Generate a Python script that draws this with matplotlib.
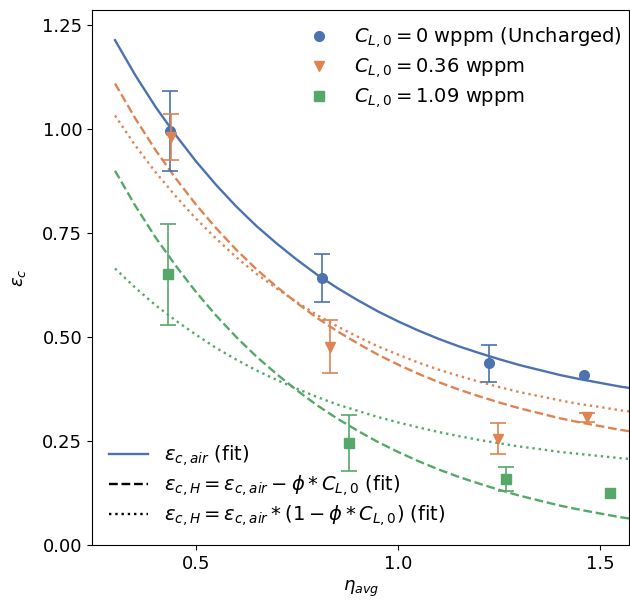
import numpy as np
import matplotlib
matplotlib.use("Agg")
import matplotlib.pyplot as plt
from matplotlib.lines import Line2D

# measured points (0 = no error bar drawn)
eta_0 = [0.436, 0.811, 1.224, 1.459]
eps_0 = [0.996, 0.642, 0.437, 0.409]
err_0 = [0.097, 0.058, 0.044, 0.0]

eta_036 = [0.438, 0.831, 1.247, 1.466]
eps_036 = [0.981, 0.477, 0.256, 0.307]
err_036 = [0.056, 0.064, 0.038, 0.011]

eta_109 = [0.430, 0.878, 1.268, 1.523]
eps_109 = [0.651, 0.245, 0.159, 0.126]
err_109 = [0.121, 0.067, 0.030, 0.0]

# fitted curves
eta_fit = [0.30, 0.35, 0.40, 0.45, 0.50, 0.55, 0.60, 0.65, 0.70, 0.75,
           0.80, 0.85, 0.90, 0.95, 1.00, 1.05, 1.10, 1.15, 1.20, 1.25,
           1.30, 1.35, 1.40, 1.45, 1.50, 1.55, 1.60]
fit_air = [1.214, 1.130, 1.054, 0.986, 0.923, 0.866, 0.814, 0.767, 0.725, 0.686,
           0.650, 0.618, 0.589, 0.562, 0.538, 0.516, 0.496, 0.478, 0.462, 0.447,
           0.433, 0.421, 0.409, 0.399, 0.390, 0.381, 0.374]
fit_sub_036 = [1.110, 1.026, 0.950, 0.882, 0.819, 0.762, 0.710, 0.663, 0.621, 0.582,
               0.546, 0.514, 0.485, 0.458, 0.434, 0.412, 0.392, 0.374, 0.358, 0.343,
               0.329, 0.317, 0.305, 0.295, 0.286, 0.277, 0.270]
fit_sub_109 = [0.900, 0.816, 0.740, 0.672, 0.609, 0.552, 0.500, 0.453, 0.411, 0.372,
               0.336, 0.304, 0.275, 0.248, 0.224, 0.202, 0.182, 0.164, 0.148, 0.133,
               0.119, 0.107, 0.095, 0.085, 0.076, 0.067, 0.060]
fit_mul_036 = [1.033, 0.961, 0.897, 0.839, 0.785, 0.737, 0.692, 0.652, 0.617, 0.584,
               0.553, 0.526, 0.501, 0.478, 0.458, 0.439, 0.422, 0.407, 0.393, 0.380,
               0.368, 0.358, 0.348, 0.339, 0.332, 0.324, 0.318]
fit_mul_109 = [0.665, 0.619, 0.577, 0.540, 0.506, 0.474, 0.446, 0.420, 0.397, 0.376,
               0.356, 0.338, 0.323, 0.308, 0.295, 0.283, 0.272, 0.262, 0.253, 0.245,
               0.237, 0.231, 0.224, 0.219, 0.214, 0.209, 0.205]

labels = [r"$C_{L,0} = 0$ wppm (Uncharged)",
          r"$C_{L,0} = 0.36$ wppm",
          r"$C_{L,0} = 1.09$ wppm"]

c_blue = "#4C72B0"
c_orange = "#DD8452"
c_green = "#55A868"

fig = plt.figure(figsize=(6.3, 6.03), dpi=100)
ax = fig.add_axes([0.146, 0.096, 0.853, 0.887])

# fit lines
lw = 1.7
ax.plot(eta_fit, fit_air, color=c_blue, lw=lw)
ax.plot(eta_fit, fit_sub_036, color=c_orange, lw=lw, ls="--")
ax.plot(eta_fit, fit_sub_109, color=c_green, lw=lw, ls="--")
ax.plot(eta_fit, fit_mul_036, color=c_orange, lw=lw, ls=":")
ax.plot(eta_fit, fit_mul_109, color=c_green, lw=lw, ls=":")

# data with error bars
series = [(eta_0, eps_0, err_0, c_blue, "o"),
          (eta_036, eps_036, err_036, c_orange, "v"),
          (eta_109, eps_109, err_109, c_green, "s")]
marker_handles = []
for (x, y, e, c, m), lab in zip(series, labels):
    x = np.array(x)
    y = np.array(y)
    e = np.array(e)
    has_err = e > 0
    ax.errorbar(x[has_err], y[has_err], yerr=e[has_err], fmt="none", ecolor=c,
                elinewidth=1.2, capsize=6, capthick=1.2)
    h, = ax.plot(x, y, marker=m, ls="none", color=c, ms=7, label=lab)
    marker_handles.append(h)

ax.set_xlim(0.243, 1.572)
ax.set_ylim(0, 1.286)
ax.set_yticks([0, 0.25, 0.5, 0.75, 1.0, 1.25])
ax.set_xticks([0.5, 1.0, 1.5])
ax.tick_params(labelsize=13)
ax.set_xlabel(r"$\eta_{avg}$", fontsize=13)
ax.set_ylabel(r"$\varepsilon_c$", fontsize=13, labelpad=10)

leg1 = ax.legend(handles=marker_handles, loc="upper right", frameon=False,
                 fontsize=14, labelspacing=0.32, bbox_to_anchor=(1.018, 1.005))
ax.add_artist(leg1)

line_handles = [
    Line2D([], [], color=c_blue, lw=lw),
    Line2D([], [], color="black", lw=lw, ls="--"),
    Line2D([], [], color="black", lw=lw, ls=":"),
]
line_labels = [r"$\varepsilon_{c,air}$ (fit)",
               r"$\varepsilon_{c,H} = \varepsilon_{c,air} - \phi * C_{L,0}$ (fit)",
               r"$\varepsilon_{c,H} = \varepsilon_{c,air} * (1 - \phi * C_{L,0})$ (fit)"]
ax.legend(line_handles, line_labels, loc="lower left", frameon=False, fontsize=14,
          labelspacing=0.24)

fig.savefig("out.png", dpi=100)
